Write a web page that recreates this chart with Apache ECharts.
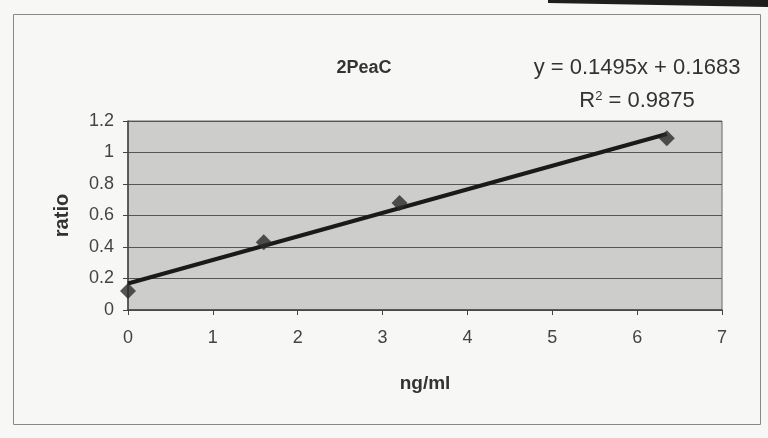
<!DOCTYPE html>
<html>
<head>
<meta charset="utf-8">
<script src="https://cdn.jsdelivr.net/npm/echarts@6/dist/echarts.min.js"></script>
<style>
html,body{margin:0;padding:0;background:#f4f4f2;}
#c{width:768px;height:438px;}
</style>
</head>
<body>
<div id="c"></div>
<script>
// Data
const concentrations = [0, 1.6, 3.2, 6.35];      // ng/ml
const ratios = [0.12, 0.43, 0.68, 1.09];         // ratio
const xTicks = [0, 1, 2, 3, 4, 5, 6, 7];
const yTicks = [0, 0.2, 0.4, 0.6, 0.8, 1, 1.2];
const trendSlope = 0.1495;
const trendIntercept = 0.1683;
const equationText = 'y = 0.1495x + 0.1683';
const r2Text = '0.9875';
const titleText = '2PeaC';

const points = concentrations.map((x, i) => [x, ratios[i]]);
const xMin = Math.min(...concentrations), xMax = Math.max(...concentrations);
const trend = [xMin, xMax].map(x => [x, trendSlope * x + trendIntercept]);

const chart = echarts.init(document.getElementById('c'));
const font = 'Liberation Sans, Arial, sans-serif';
chart.setOption({
  backgroundColor: '#f7f7f5',
  animation: false,
  grid: {left: 128, top: 121, width: 594, height: 189, show: true,
         backgroundColor: '#cdcdcb', borderColor: '#666', borderWidth: 1},
  xAxis: {
    type: 'value', min: xTicks[0], max: xTicks[xTicks.length - 1], interval: 1,
    name: 'ng/ml', nameLocation: 'middle', nameGap: 64,
    nameTextStyle: {fontFamily: font, fontSize: 19, fontWeight: 'bold', color: '#333'},
    axisLine: {show: true, onZero: false, lineStyle: {color: '#444', width: 1.5}},
    axisTick: {show: true, inside: false, length: 5, lineStyle: {color: '#444'}},
    axisLabel: {fontFamily: font, fontSize: 18, color: '#444', margin: 19},
    splitLine: {show: false}
  },
  yAxis: {
    type: 'value', min: yTicks[0], max: yTicks[yTicks.length - 1], interval: 0.2,
    name: 'ratio', nameLocation: 'middle', nameGap: 56, nameRotate: 90,
    nameTextStyle: {fontFamily: font, fontSize: 20, fontWeight: 'bold', color: '#333'},
    axisLine: {show: true, lineStyle: {color: '#444', width: 1.5}},
    axisTick: {show: true, inside: false, length: 5, lineStyle: {color: '#444'}},
    axisLabel: {fontFamily: font, fontSize: 18, color: '#444', margin: 14,
                formatter: v => String(+v.toFixed(1))},
    splitLine: {show: true, lineStyle: {color: '#555', width: 1}}
  },
  graphic: [
    {type: 'rect', silent: true, z: -1,
     shape: {x: 13.5, y: 14.5, width: 747, height: 410},
     style: {fill: 'none', stroke: '#888', lineWidth: 1}},
    {type: 'polygon', silent: true,
     shape: {points: [[548, 0], [768, 0], [768, 7], [548, 3]]},
     style: {fill: '#1e1e1e'}},
    {type: 'text', x: 364, y: 68,
     style: {text: titleText, font: 'bold 18px Liberation Sans, Arial, sans-serif', fill: '#333',
             textAlign: 'center', textVerticalAlign: 'middle'}},
    {type: 'text', x: 637, y: 68,
     style: {text: equationText, font: '22px Liberation Sans, Arial, sans-serif', fill: '#333',
             textAlign: 'center', textVerticalAlign: 'middle'}},
    {type: 'text', x: 637, y: 101,
     style: {text: 'R{s|2} = ' + r2Text, font: '22px Liberation Sans, Arial, sans-serif', fill: '#333',
             textAlign: 'center', textVerticalAlign: 'middle',
             rich: {s: {fontSize: 13, verticalAlign: 'top', padding: [0, 0, 10, 0],
                        fontFamily: font, fill: '#333'}}}}
  ],
  series: [
    {type: 'line', data: trend, showSymbol: false, symbol: 'none',
     lineStyle: {color: '#1a1a1a', width: 4}, z: 2},
    {type: 'scatter', data: points, symbol: 'diamond', symbolSize: 16,
     itemStyle: {color: '#2b2b2b'}, z: 3}
  ]
});
</script>
</body>
</html>
